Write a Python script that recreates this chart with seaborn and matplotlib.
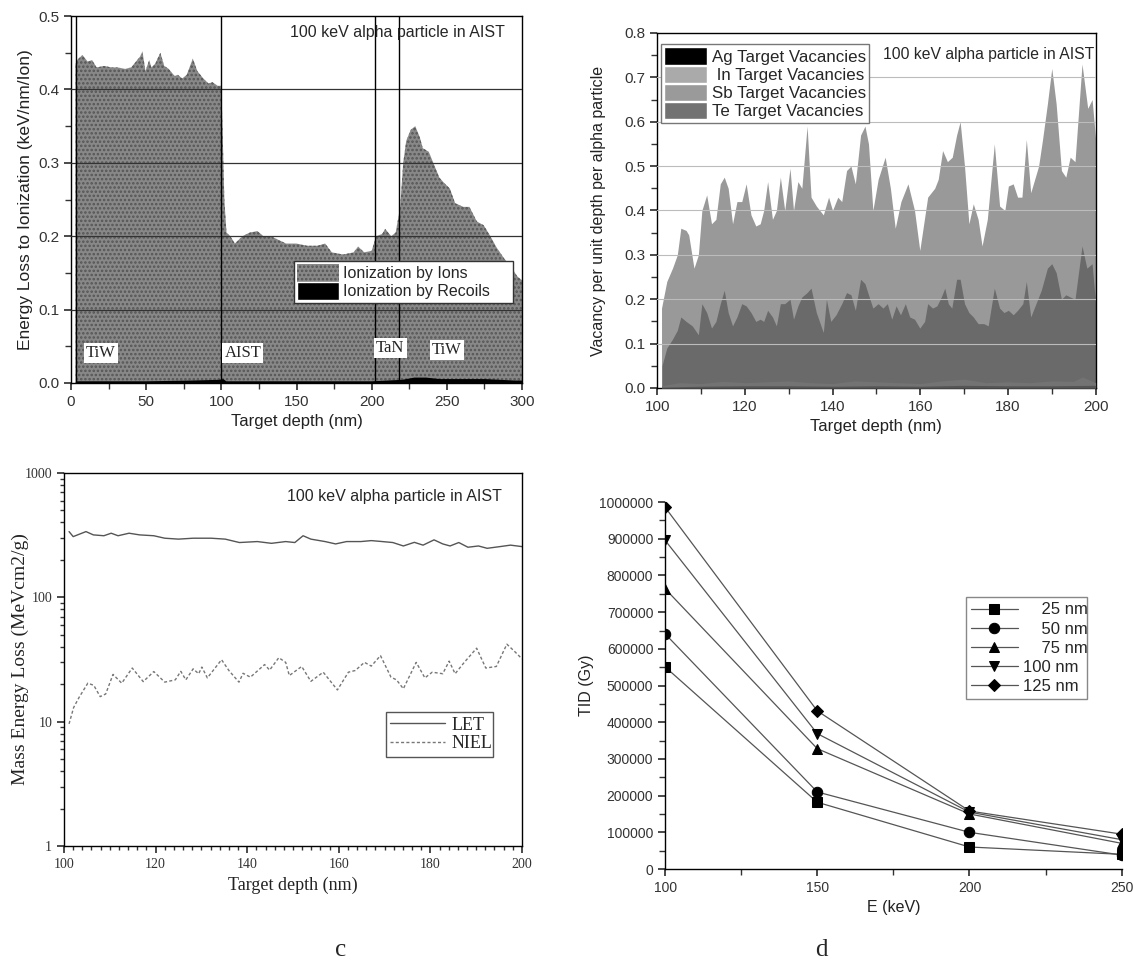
import numpy as np
import pandas as pd
import seaborn as sns
import matplotlib.pyplot as plt
from matplotlib.patches import Patch
from matplotlib.ticker import MultipleLocator, LogLocator, NullFormatter, FixedLocator

# ---- panel a: ionization energy loss vs depth ----
ion_depth = [3, 4, 7.6, 11, 14, 17, 22, 27, 31, 36,
             40, 44, 46, 47.5, 49.5, 52, 53.5, 56, 59.4, 62,
             65, 69, 71, 74, 77, 81, 84, 88, 91.5, 94,
             97.5, 100, 101, 102, 103.4, 106, 109, 114, 119, 124,
             128, 133, 138, 143, 150, 157, 164, 169, 173.5, 181,
             188, 191, 195, 200, 203, 207, 209, 213, 216, 219,
             221, 223, 226, 229, 232, 234, 238, 241, 245, 248,
             252, 255.5, 261, 265, 270, 274.5, 279, 283, 288, 292,
             297, 300]
ion_loss = [0.435, 0.44, 0.447, 0.438, 0.44, 0.43, 0.432, 0.43, 0.43, 0.428,
            0.43, 0.44, 0.445, 0.452, 0.425, 0.44, 0.43, 0.435, 0.45, 0.432,
            0.428, 0.418, 0.42, 0.415, 0.42, 0.442, 0.425, 0.415, 0.408, 0.41,
            0.405, 0.405, 0.33, 0.25, 0.205, 0.2, 0.19, 0.2, 0.205, 0.207,
            0.2, 0.2, 0.195, 0.19, 0.19, 0.187, 0.187, 0.19, 0.178, 0.175,
            0.178, 0.186, 0.178, 0.18, 0.2, 0.203, 0.21, 0.2, 0.205, 0.24,
            0.3, 0.33, 0.345, 0.35, 0.335, 0.32, 0.315, 0.30, 0.28, 0.273,
            0.265, 0.245, 0.24, 0.24, 0.22, 0.215, 0.2, 0.185, 0.17, 0.16,
            0.145, 0.14]
rec_depth = [3, 20, 50, 80, 98, 101, 103, 150, 200, 220, 228, 236, 245, 260, 275, 285, 295, 300]
rec_loss = [0.003, 0.003, 0.003, 0.004, 0.005, 0.006, 0.003, 0.003, 0.003,
            0.005, 0.008, 0.008, 0.006, 0.006, 0.006, 0.005, 0.004, 0.004]
layer_edges = [3, 100, 202, 218]
layer_names = ["TiW", "AIST", "TaN", "TiW"]
layer_label_x = [10, 102, 203, 240]
layer_label_y = [0.035, 0.035, 0.042, 0.04]

# ---- panel b: vacancies ----
sb_depth = [101.0, 102.2, 103.5, 104.6, 105.4, 106.6, 107.2, 108.4, 109.4, 110.2,
            111.3, 112.4, 113.4, 114.4, 115.3, 116.2, 117.2, 118.2, 119.3, 120.3,
            121.4, 122.5, 123.5, 124.3, 125.2, 126.3, 127.2, 128.1, 129.1, 130.3,
            131.1, 132.1, 133.0, 134.2, 135.1, 136.3, 137.9, 139.1, 140.0, 141.2,
            142.1, 143.2, 144.2, 145.2, 146.4, 147.4, 148.2, 149.2, 150.4, 152.0,
            153.2, 154.3, 155.6, 157.2, 158.7, 159.9, 161.7, 163.3, 164.1, 165.1,
            166.2, 167.3, 168.3, 169.1, 170.1, 171.1, 172.1, 173.2, 174.1, 175.3,
            176.9, 178.1, 179.3, 180.1, 181.2, 182.2, 183.2, 184.2, 185.2, 187.0,
            187.9, 189.0, 190.0, 191.0, 192.2, 193.2, 194.2, 195.3, 196.9, 198.2,
            199.2, 200.0]
sb_vac = [0.18, 0.24, 0.27, 0.30, 0.36, 0.355, 0.345, 0.27, 0.30, 0.40,
          0.435, 0.37, 0.38, 0.46, 0.475, 0.45, 0.37, 0.42, 0.42, 0.46,
          0.39, 0.365, 0.37, 0.40, 0.465, 0.38, 0.40, 0.475, 0.40, 0.495,
          0.40, 0.465, 0.45, 0.59, 0.43, 0.41, 0.39, 0.43, 0.40, 0.43,
          0.42, 0.49, 0.50, 0.46, 0.57, 0.59, 0.55, 0.40, 0.47, 0.52,
          0.45, 0.36, 0.42, 0.46, 0.40, 0.31, 0.43, 0.45, 0.47, 0.535,
          0.51, 0.52, 0.57, 0.60, 0.50, 0.37, 0.415, 0.38, 0.32, 0.38,
          0.55, 0.41, 0.40, 0.455, 0.46, 0.43, 0.43, 0.56, 0.44, 0.50,
          0.56, 0.64, 0.72, 0.64, 0.49, 0.475, 0.52, 0.51, 0.73, 0.63,
          0.65, 0.56]
te_depth = [101.1, 102.2, 103.5, 104.6, 105.4, 106.6, 108.0, 109.4, 110.2, 111.3,
            112.4, 113.4, 114.4, 115.3, 116.2, 117.2, 118.2, 119.3, 120.3, 121.4,
            122.5, 123.5, 124.3, 125.2, 126.3, 127.2, 128.1, 129.1, 130.3, 131.1,
            132.1, 133.0, 134.2, 135.1, 136.3, 137.9, 138.6, 139.6, 140.8, 142.1,
            143.2, 144.2, 145.2, 146.4, 147.4, 148.2, 149.2, 150.4, 151.5, 152.5,
            153.5, 154.5, 155.5, 156.6, 157.6, 158.7, 159.9, 161.0, 161.7, 162.8,
            163.8, 164.8, 165.6, 166.4, 167.2, 168.3, 169.1, 170.1, 171.1, 172.1,
            173.2, 174.5, 175.5, 176.9, 178.1, 179.1, 180.1, 181.2, 182.2, 183.4,
            184.2, 185.2, 186.4, 187.6, 189.0, 190.0, 191.0, 192.2, 193.2, 194.2,
            195.3, 196.9, 198.0, 199.2, 200.0]
te_vac = [0.05, 0.09, 0.11, 0.13, 0.16, 0.15, 0.14, 0.12, 0.19, 0.17,
          0.135, 0.15, 0.19, 0.22, 0.17, 0.14, 0.16, 0.19, 0.185, 0.17,
          0.15, 0.155, 0.15, 0.175, 0.16, 0.14, 0.19, 0.19, 0.2, 0.155,
          0.185, 0.205, 0.215, 0.225, 0.17, 0.125, 0.2, 0.15, 0.165, 0.19,
          0.215, 0.21, 0.175, 0.245, 0.235, 0.21, 0.18, 0.19, 0.18, 0.19,
          0.155, 0.185, 0.165, 0.19, 0.16, 0.155, 0.135, 0.15, 0.19, 0.18,
          0.185, 0.205, 0.225, 0.19, 0.18, 0.245, 0.245, 0.19, 0.17, 0.16,
          0.145, 0.145, 0.14, 0.225, 0.18, 0.17, 0.175, 0.165, 0.175, 0.19,
          0.24, 0.16, 0.19, 0.22, 0.27, 0.28, 0.26, 0.2, 0.21, 0.205,
          0.2, 0.32, 0.27, 0.28, 0.19]
in_depth = [101, 105, 110, 115, 120, 125, 130, 135, 140, 145, 150,
            155, 160, 165, 170, 175, 180, 185, 190, 195, 197, 200]
in_vac = [0.005, 0.012, 0.01, 0.015, 0.012, 0.014, 0.016, 0.012, 0.01, 0.016, 0.014,
          0.012, 0.01, 0.016, 0.02, 0.012, 0.014, 0.012, 0.016, 0.015, 0.025, 0.012]
ag_depth = [101, 110, 120, 130, 140, 150, 160, 170, 180, 190, 200]
ag_vac = [0.002, 0.004, 0.005, 0.005, 0.004, 0.005, 0.004, 0.006, 0.005, 0.005, 0.006]

# ---- panel c: LET / NIEL ----
let_depth = [101.1, 102.0, 104.8, 106.4, 108.7, 110.3, 111.8, 114.2, 116.5, 119.6,
             122.0, 125.0, 128.2, 132.1, 135.2, 138.3, 142.2, 145.3, 148.4, 150.4,
             152.2, 153.9, 157.0, 159.3, 161.7, 164.8, 167.1, 169.5, 171.8, 174.1,
             176.5, 178.4, 180.8, 182.7, 184.3, 186.2, 188.2, 190.5, 192.4, 195.2,
             197.5, 200.0]
let_vals = [338, 308, 338, 318, 313, 328, 313, 328, 318, 313,
            299, 294, 299, 299, 294, 276, 281, 272, 281, 276,
            313, 294, 281, 269, 281, 281, 286, 281, 276, 259,
            277, 263, 290, 269, 259, 276, 253, 259, 248, 256,
            263, 256]
niel_depth = [101.1, 102.1, 103.3, 105.2, 106.5, 107.9, 109.1, 110.7, 112.6, 114.9,
              117.3, 119.6, 122.0, 124.3, 125.5, 126.6, 128.2, 129.4, 130.1, 131.3,
              134.4, 136.0, 138.2, 139.1, 140.7, 143.8, 144.9, 146.9, 148.4, 149.2,
              151.9, 153.9, 156.6, 159.7, 162.1, 163.6, 165.6, 167.1, 169.1, 171.4,
              172.6, 174.1, 176.9, 178.8, 180.4, 182.7, 184.1, 185.4, 187.4, 190.1,
              192.1, 194.4, 196.7, 198.3, 200.0]
niel_vals = [9.6, 13, 15.7, 20.4, 19.6, 15.9, 16.7, 24, 20.4, 27,
             21, 25.3, 20.8, 21.7, 25.4, 21.7, 26.6, 24.3, 27.5, 22.5,
             31.5, 25.8, 20.8, 24.5, 22.8, 28.8, 26, 32.7, 30, 23.5,
             27.8, 21.1, 25, 18, 25, 25.8, 30, 28, 34, 22.8,
             21.7, 18.4, 30, 22.5, 25, 24.3, 30.7, 24.3, 30, 39,
             27, 27.8, 42, 37, 32]

# ---- panel d: TID vs energy ----
energy = [100, 150, 200, 250]
thickness = ["25 nm", "50 nm", "75 nm", "100 nm", "125 nm"]
tid_25 = [551000, 182000, 60000, 40000]
tid_50 = [641000, 210000, 100000, 38000]
tid_75 = [764000, 328000, 150000, 70000]
tid_100 = [896000, 369000, 155000, 80000]
tid_125 = [986000, 431000, 158000, 95000]
markers = ["s", "o", "^", "v", "D"]

sns.set_theme(style="ticks")
plt.rcParams["font.family"] = ["Liberation Sans", "DejaVu Sans"]
plt.rcParams["axes.edgecolor"] = "black"
plt.rcParams["xtick.color"] = "#333333"
plt.rcParams["ytick.color"] = "#333333"
plt.rcParams["axes.labelcolor"] = "#222222"
plt.rcParams["hatch.linewidth"] = 1.2

fig = plt.figure(figsize=(11.33, 9.63), dpi=100)
SERIF = ["Liberation Serif", "DejaVu Serif"]
NOTE = "100 keV alpha particle in AIST"

# ================= panel a =================
ax = fig.add_axes([0.0627, 0.6023, 0.398, 0.381])
ax.fill_between(ion_depth, ion_loss, color="#888888", edgecolor="#555555",
                hatch="....", linewidth=0, zorder=1)
ax.fill_between(rec_depth, rec_loss, color="black", linewidth=0, zorder=2)
for yv in [0.1, 0.2, 0.3, 0.4]:
    ax.axhline(yv, color="#333333", lw=0.9, zorder=3)
for xv in layer_edges:
    ax.axvline(xv, color="black", lw=1.0, zorder=3)
for name, lx, ly in zip(layer_names, layer_label_x, layer_label_y):
    ax.text(lx, ly, name, family=SERIF, fontsize=12, zorder=5,
            bbox=dict(facecolor="white", edgecolor="none", pad=1.5))
ax.text(0.962, 0.955, NOTE, transform=ax.transAxes, ha="right", va="center", fontsize=11.5)
ax.set_xlim(0, 300)
ax.set_ylim(0, 0.5)
ax.xaxis.set_major_locator(MultipleLocator(50))
ax.xaxis.set_minor_locator(MultipleLocator(25))
ax.yaxis.set_major_locator(MultipleLocator(0.1))
ax.yaxis.set_minor_locator(MultipleLocator(0.05))
ax.set_xlabel("Target depth (nm)", fontsize=12)
ax.set_ylabel("Energy Loss to Ionization (keV/nm/Ion)", fontsize=12.5)
handles = [Patch(facecolor="#888888", edgecolor="#555555", hatch="....", lw=0),
           Patch(facecolor="black")]
leg = ax.legend(handles, ["Ionization by Ions", "Ionization by Recoils"],
                loc="lower left", bbox_to_anchor=(0.494, 0.218, 0.486, 0.117),
                mode="expand", fontsize=11.5, frameon=True, fancybox=False,
                framealpha=1, edgecolor="#333333", borderpad=0.2,
                handlelength=2.6, handleheight=1.3, labelspacing=0.05,
                handletextpad=0.3, borderaxespad=0)
leg.set_zorder(6)

# ================= panel b =================
ax = fig.add_axes([0.580, 0.5971, 0.387, 0.3687])
ax.fill_between(sb_depth, sb_vac, color="#999999", linewidth=0, zorder=1)
ax.fill_between(te_depth, te_vac, color="#6a6a6a", linewidth=0, zorder=2)
ax.fill_between(in_depth, in_vac, color="#737373", linewidth=0, zorder=3)
ax.fill_between(ag_depth, ag_vac, color="#555555", linewidth=0, zorder=4)
for yv in np.arange(1, 8) / 10:
    ax.axhline(yv, color="#bcbcbc", lw=0.8, zorder=5)
ax.set_xlim(100, 200)
ax.set_ylim(0, 0.8)
ax.xaxis.set_major_locator(MultipleLocator(20))
ax.xaxis.set_minor_locator(MultipleLocator(10))
ax.yaxis.set_major_locator(MultipleLocator(0.1))
ax.yaxis.set_minor_locator(MultipleLocator(0.05))
ax.set_xlabel("Target depth (nm)", fontsize=12)
ax.set_ylabel("Vacancy per unit depth per alpha particle", fontsize=11.5, labelpad=13)
ax.text(0.998, 0.938, NOTE, transform=ax.transAxes, ha="right", va="center", fontsize=11.3)
handles = [Patch(facecolor=c) for c in ["black", "#aaaaaa", "#9a9a9a", "#727272"]]
leg = ax.legend(handles, ["Ag Target Vacancies", " In Target Vacancies",
                          "Sb Target Vacancies", "Te Target Vacancies"],
                loc="upper left", bbox_to_anchor=(0.009, 0.969), fontsize=12.2,
                frameon=True, fancybox=False, framealpha=1, edgecolor="#777777",
                borderpad=0.2, handlelength=2.5, handleheight=1.2,
                labelspacing=0.05, handletextpad=0.3, borderaxespad=0)
leg.set_zorder(6)

# ================= panel c =================
ax = fig.add_axes([0.0565, 0.1215, 0.4042, 0.3873])
sns.lineplot(x=let_depth, y=let_vals, ax=ax, color="#555555", lw=1.0, label="LET")
sns.lineplot(x=niel_depth, y=niel_vals, ax=ax, color="#777777", lw=1.0,
             linestyle=(0, (2.2, 1.6)), label="NIEL")
ax.set_yscale("log")
ax.set_xlim(100, 200)
ax.set_ylim(1, 1000)
ax.xaxis.set_major_locator(MultipleLocator(20))
ax.xaxis.set_minor_locator(MultipleLocator(2))
ax.yaxis.set_major_locator(FixedLocator([1, 10, 100, 1000]))
ax.yaxis.set_minor_locator(LogLocator(base=10, subs=np.arange(2, 10) / 10 * 10, numticks=10))
ax.yaxis.set_minor_formatter(NullFormatter())
ax.set_yticklabels(["1", "10", "100", "1000"])
for lab in ax.get_xticklabels() + ax.get_yticklabels():
    lab.set_family(SERIF)
    lab.set_fontsize(10)
ax.tick_params(which="minor", length=3)
ax.set_xlabel("Target depth (nm)", family=SERIF, fontsize=13)
ax.set_ylabel("Mass Energy Loss (MeVcm2/g)", family=SERIF, fontsize=14, labelpad=-3)
ax.text(0.956, 0.936, NOTE, transform=ax.transAxes, ha="right", va="center", fontsize=11.5)
ax.legend(loc="lower left", bbox_to_anchor=(0.703, 0.239, 0.234, 0.128), mode="expand",
          prop={"family": SERIF, "size": 13}, frameon=True, fancybox=False,
          framealpha=1, edgecolor="#555555", handlelength=3.0, borderpad=0.25,
          labelspacing=0.1, handletextpad=0.4, borderaxespad=0)

# ================= panel d =================
ax = fig.add_axes([0.587, 0.0976, 0.403, 0.381])
tid_series = [tid_25, tid_50, tid_75, tid_100, tid_125]
for name, vals, mk in zip(thickness, tid_series, markers):
    sns.lineplot(x=energy, y=vals, ax=ax, color="#555555", lw=0.9, marker=mk,
                 markersize=7.5 if mk != "D" else 6.5, markerfacecolor="black",
                 markeredgecolor="black", label=name, clip_on=True)
ax.set_xlim(100, 250)
ax.set_ylim(0, 1000000)
ax.xaxis.set_major_locator(MultipleLocator(50))
ax.xaxis.set_minor_locator(MultipleLocator(25))
ax.yaxis.set_major_locator(MultipleLocator(100000))
ax.yaxis.set_minor_locator(MultipleLocator(50000))
ax.ticklabel_format(axis="y", style="plain")
ax.spines["top"].set_visible(False)
ax.spines["right"].set_visible(False)
ax.tick_params(labelsize=10)
ax.set_xlabel("E (keV)", fontsize=11.5)
ax.set_ylabel("TID (Gy)", fontsize=11.5)
h, l = ax.get_legend_handles_labels()
# pad the short labels so the text lines up on the right like the original
padded = [("    " + s) if len(s) < 6 else s for s in l]
ax.legend(h, padded, loc="lower left", bbox_to_anchor=(0.659, 0.463, 0.264, 0.289),
          mode="expand", fontsize=12, frameon=True, fancybox=False, framealpha=1,
          edgecolor="#888888", handlelength=2.8, borderpad=0.3,
          labelspacing=0.25, handletextpad=0.3, borderaxespad=0)

for a in fig.axes:
    a.tick_params(which="both", direction="out")
    a.tick_params(which="major", length=5)
    for sp in a.spines.values():
        sp.set_linewidth(1.0)

fig.text(341 / 1133, 1 - 950 / 963, "c", family=SERIF, fontsize=18, ha="center", va="center")
fig.text(821 / 1133, 1 - 950 / 963, "d", family=SERIF, fontsize=18, ha="center", va="center")

fig.savefig("out.png", dpi=100)
